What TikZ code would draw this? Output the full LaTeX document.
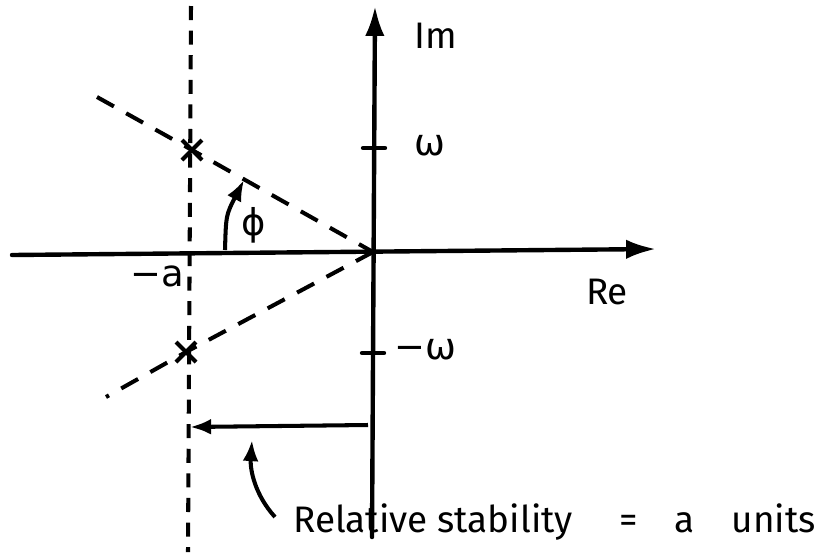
\documentclass[tikz,border=0pt]{standalone}
\usepackage{fontspec}
\setmainfont{Fira Sans}
\newfontfamily\grk{DejaVu Sans}
\usetikzlibrary{arrows.meta,calc}
\begin{document}
\begin{tikzpicture}[x=0.02cm,y=-0.02cm,
  axis/.style={line width=2.5pt,line cap=round},
  dashln/.style={line width=2.3pt,dash pattern=on 11pt off 8pt},
  vdash/.style={line width=2.3pt,dash pattern=on 8pt off 6pt},
  thin arrow/.style={line width=2.3pt,-{Latex[length=12pt,width=9pt]}},
  lbl/.style={inner sep=0pt,font=\fontsize{21}{25}\selectfont},
  polex/.style={line width=2.4pt}]
\useasboundingbox (0,0) rectangle (825,552);
% coordinates
\coordinate (O) at (373,252);
\coordinate (reL) at (12,255);
\coordinate (reR) at (656,249);
\coordinate (imB) at (372,537);
\coordinate (imT) at (375,6);
\coordinate (vT) at (191,6);
\coordinate (vB) at (188,552);
\coordinate (p1) at (192,150);
\coordinate (p2) at (186,352);
\coordinate (u1) at (97,97);
\coordinate (l1) at (106,397);
% axes
\draw[axis,-{Latex[length=17pt,width=11pt]}] (reL) -- (reR);
\draw[axis,-{Latex[length=17pt,width=11pt]}] (imB) -- (imT);
% ticks
\coordinate (t1a) at (363,148); \coordinate (t1b) at (385,148);
\coordinate (t2a) at (362,353); \coordinate (t2b) at (384,353);
\draw[axis] (t1a) -- (t1b);
\draw[axis] (t2a) -- (t2b);
% dashed lines
\draw[vdash] (vT) -- (vB);
\draw[dashln] (u1) -- (p1) -- (O);
\draw[dashln] (O) -- (p2) -- (l1);
% poles
\foreach \p in {p1,p2}{
  \draw[polex] ($(\p)+(-10,-10)$) -- ($(\p)+(10,10)$);
  \draw[polex] ($(\p)+(-10,10)$) -- ($(\p)+(10,-10)$);
}
% angle arrow
\coordinate (aS) at (225,250);
\coordinate (aE) at (244,180);
\draw[thin arrow] (aS) .. controls (226,215) .. (aE);
% relative stability arrow
\coordinate (rS) at (368,425);
\coordinate (rE) at (190,427);
\draw[thin arrow] (rS) -- (rE);
% annotation arrow
\coordinate (cS) at (275,517);
\coordinate (cE) at (252,440);
\draw[thin arrow] (cS) .. controls (255,495) and (250,470) .. (cE);
% labels
\node[lbl] (im) at (436,36) {Im};
\node[lbl] (w) at (430,146) {\grk ω};
\node[lbl] (mw) at (425,350) {\grk −ω};
\node[lbl] (re) at (607,292) {Re};
\node[lbl] (ma) at (157,276) {\grk −a};
\node[lbl] (phi) at (254,225) {\grk ϕ};
\node[lbl,anchor=west] (txt) at (293,522) {Relative stability \quad=\quad a\quad units};
\end{tikzpicture}
\end{document}
